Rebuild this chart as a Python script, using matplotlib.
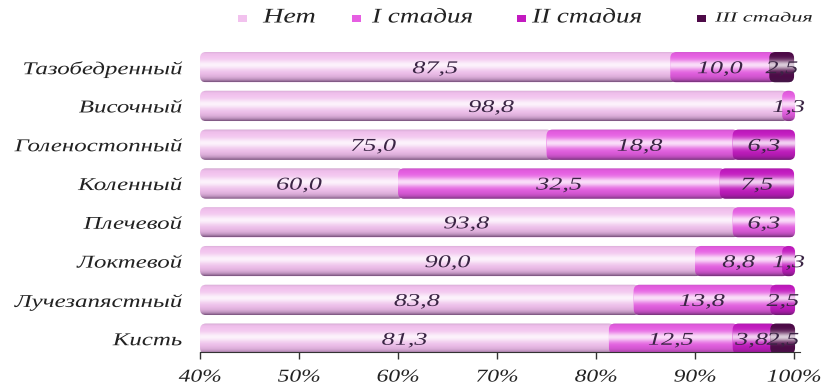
import numpy as np
import matplotlib.pyplot as plt
from matplotlib.patches import FancyBboxPatch, Rectangle
from matplotlib.patheffects import AbstractPathEffect
from matplotlib.transforms import Affine2D

joints = ['Кисть', 'Лучезапястный', 'Локтевой', 'Плечевой',
          'Коленный', 'Голеностопный', 'Височный', 'Тазобедренный']
net = [81.3, 83.8, 90.0, 93.8, 60.0, 75.0, 98.8, 87.5]
st1 = [12.5, 13.8, 8.8, 6.3, 32.5, 18.8, 1.3, 10.0]
st2 = [3.8, 2.5, 1.3, 0, 7.5, 6.3, 0, 0]
st3 = [2.5, 0, 0, 0, 0, 0, 0, 2.5]
series_names = ['Нет', 'I стадия', 'II стадия', 'III стадия']
colors = ['#f2c2ee', '#e65ee2', '#c31ac0', '#4e0a48']
xticks = [40, 50, 60, 70, 80, 90, 100]


class Stretch(AbstractPathEffect):
    """Draw text wider than the font's natural width."""

    def __init__(self, sx, anchor='center'):
        super().__init__()
        self.sx = sx
        self.anchor = anchor

    def draw_path(self, renderer, gc, tpath, affine, rgbFace=None):
        ext = tpath.get_extents(affine)
        if self.anchor == 'right':
            ax0 = ext.x1
        elif self.anchor == 'left':
            ax0 = ext.x0
        else:
            ax0 = (ext.x0 + ext.x1) / 2
        aff = affine + Affine2D().translate(-ax0, 0).scale(self.sx, 1).translate(ax0, 0)
        renderer.draw_path(gc, tpath, aff, rgbFace)


plt.rcParams['font.family'] = ['Liberation Serif', 'DejaVu Serif']
plt.rcParams['font.style'] = 'italic'
txt_col = '#3a2544'

fig = plt.figure(figsize=(8.31, 3.85), dpi=100)
ax = fig.add_axes([0.2407, 0.086, 0.722, 0.79])
ax.set_xlim(40, 100.6)
ax.set_ylim(-0.34, 7.5)

# shading layers: white highlight band and dark lower edge of each tube
t = np.linspace(0, 1, 80)
hi = np.zeros((80, 1, 4))
hi[:, 0, :3] = 1
hi[:, 0, 3] = 0.8 * np.exp(-((t - 0.55) / 0.16) ** 2)
lo = np.zeros((80, 1, 4))
lo[:, 0, :3] = [0.25, 0.12, 0.28]
lo[:, 0, 3] = np.clip(0.7 * np.exp(-t / 0.1) + 0.25 * np.exp(-(1 - t) / 0.04), 0, 1)

bbox = ax.get_window_extent()
asp = (7.84 / bbox.height) / (60.6 / bbox.width)
r = 0.6

h = 0.78
y = np.arange(len(joints))
left = np.zeros(len(joints))
tot = np.array(net) + np.array(st1) + np.array(st2) + np.array(st3)
z = 2
for vals, col in zip([net, st1, st2, st3], colors):
    vals = np.array(vals)
    bars = ax.barh(y, vals, left=left, height=h, color=col, edgecolor='none')
    for i, b in enumerate(bars):
        b.set_visible(False)
        w = b.get_width()
        if w <= 0:
            continue
        x0 = max(b.get_x(), 40)
        x1 = b.get_x() + w
        if x1 < tot[i] - 0.05:
            x1 += r
        rr = min(r, (x1 - x0) / 2)
        yb = b.get_y()
        p = FancyBboxPatch((x0, yb), x1 - x0, h,
                           boxstyle=f'round,pad=0,rounding_size={rr}',
                           mutation_aspect=asp, fc=col, ec='none', zorder=z)
        ax.add_patch(p)
        for layer in (hi, lo):
            im = ax.imshow(layer, extent=(x0, x1, yb, yb + h), aspect='auto',
                           origin='lower', zorder=z + 0.1,
                           interpolation='bilinear')
            im.set_clip_path(p)
        z += 0.2
    for i, v in enumerate(vals):
        if v <= 0:
            continue
        cx = (max(left[i], 40) + left[i] + v) / 2
        ax.text(cx, y[i] - 0.04, f'{v:.1f}'.replace('.', ','),
                ha='center', va='center', fontsize=13, color=txt_col,
                zorder=20, path_effects=[Stretch(1.45)])
    left += vals

ax.set_xlim(40, 100.6)
ax.set_ylim(-0.34, 7.5)
ax.set_yticks(y)
ax.set_yticklabels(joints, fontsize=13, color='#222222')
ax.tick_params(axis='y', length=0, pad=13)
for lab in ax.get_yticklabels():
    lab.set_path_effects([Stretch(1.38, 'right')])
ax.set_xticks(xticks)
ax.set_xticklabels([f'{v}%' for v in xticks], fontsize=13, color='#222222')
ax.tick_params(axis='x', direction='out', length=5, width=1,
               color='#333333', pad=7)
for lab in ax.get_xticklabels():
    lab.set_path_effects([Stretch(1.3)])
for s in ['top', 'right', 'left']:
    ax.spines[s].set_visible(False)
ax.spines['bottom'].set_color('#333333')

# legend row along the top
W, H = 831, 385
leg_marker_x = [238, 352, 517, 697]
leg_text_x = [263, 372, 532, 715]
leg_size = [15, 15, 15, 10]
leg_sx = [1.35, 1.3, 1.3, 1.6]
for mx, tx, col, name, fs, sx in zip(leg_marker_x, leg_text_x, colors,
                                     series_names, leg_size, leg_sx):
    fig.patches.append(Rectangle((mx / W, 1 - 22 / H), 9 / W, 7 / H, fc=col,
                                 ec='none', transform=fig.transFigure,
                                 figure=fig))
    fig.text(tx / W, 1 - 18 / H, name, fontsize=fs, ha='left', va='center',
             color='#222222', path_effects=[Stretch(sx, 'left')])

fig.savefig('out.png', dpi=100)
